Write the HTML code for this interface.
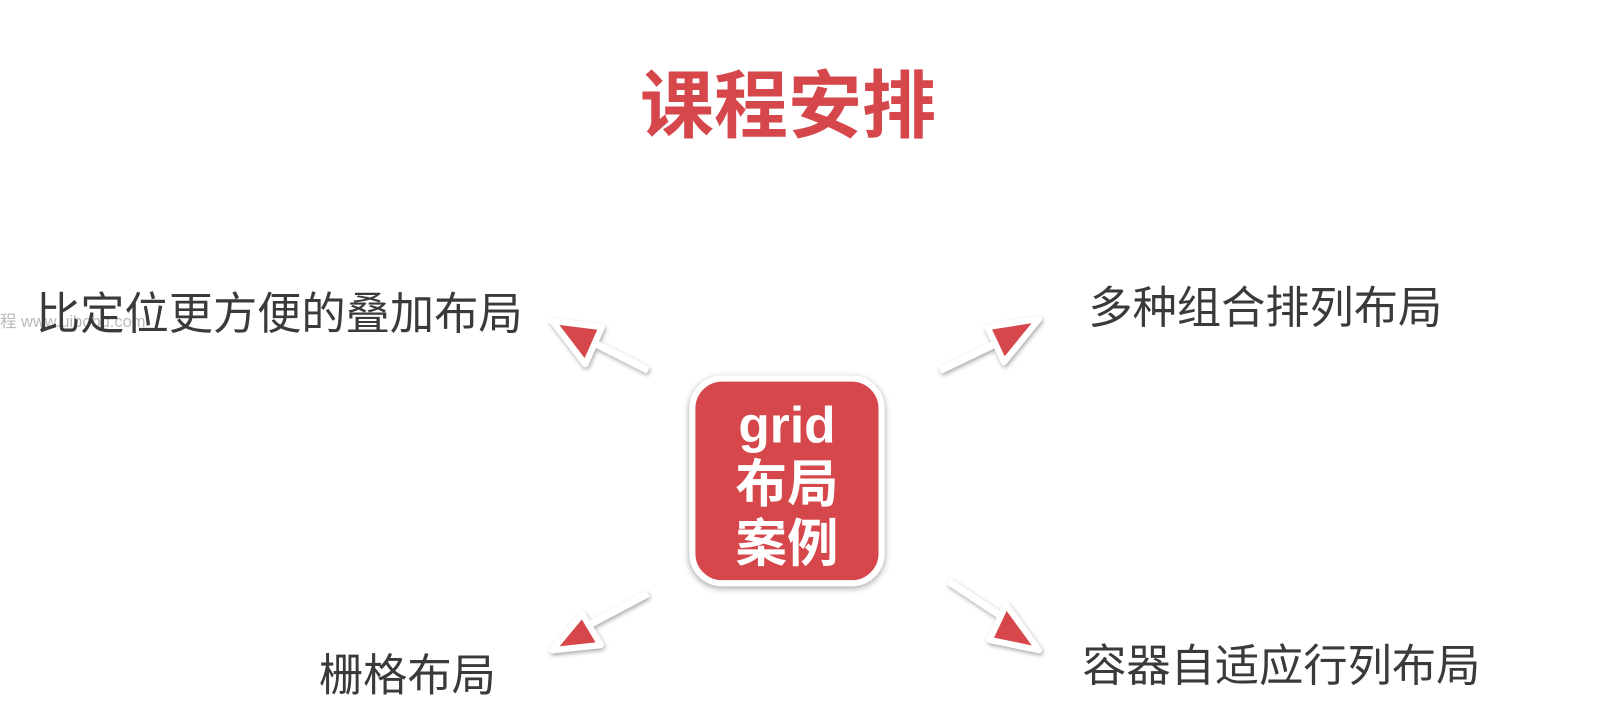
<!DOCTYPE html>
<html><head><meta charset="utf-8"><style>
body{margin:0;width:1613px;height:728px;background:#fff;overflow:hidden;position:relative;font-family:"Liberation Sans","Noto Sans CJK SC",sans-serif}
#w{position:absolute;left:0;top:0;width:1568px;height:708px;transform:scale(1.0287);transform-origin:0 0}
.t{position:absolute;white-space:nowrap;color:#3a3a3a;line-height:1}
.box{position:absolute;left:670px;top:365px;width:178px;height:180px;background:#d6474b;border:6px solid #fff;border-radius:32px;box-shadow:0 2px 6px rgba(0,0,0,.35);color:#fff;font-weight:bold;font-size:50px;text-align:center;line-height:58px;padding-top:13px;box-sizing:content-box}
</style></head><body><div id="w">
<div class="t" style="left:622px;top:68px;font-size:72px;font-weight:bold;color:#d6474b">课程安排</div>
<div class="t" style="left:0;top:306px;font-size:16px;color:#bbb">程 www.uibobu.com</div>
<div class="t" style="left:35px;top:285px;font-size:43px">比定位更方便的叠加布局</div>
<div class="t" style="left:1058px;top:279px;font-size:43px">多种组合排列布局</div>
<div class="t" style="left:310px;top:636px;font-size:43px">栅格布局</div>
<div class="t" style="left:1052px;top:627px;font-size:43px">容器自适应行列布局</div>
<svg width="1568" height="708" style="position:absolute;left:0;top:0">
<defs><filter id="s"><feDropShadow dx="1" dy="2" stdDeviation="2" flood-opacity=".35"/></filter></defs>
<g filter="url(#s)" stroke="#fff" stroke-linejoin="round">
<line x1="630" y1="360" x2="575" y2="332" stroke-width="7"/>
<polygon points="537,312 585,318 569,354" fill="#d6474b" stroke-width="6"/>
<line x1="914" y1="360" x2="968" y2="334" stroke-width="7"/>
<polygon points="1010,310 960,318 976,352" fill="#d6474b" stroke-width="6"/>
<line x1="630" y1="577" x2="575" y2="606" stroke-width="7"/>
<polygon points="537,632 566,597 584,627" fill="#d6474b" stroke-width="6"/>
<line x1="922" y1="565" x2="975" y2="600" stroke-width="7"/>
<polygon points="1010,632 962,622 978,588" fill="#d6474b" stroke-width="6"/>
</g>
</svg>
<div class="box">grid<br>布局<br>案例</div>
</div></body></html>
